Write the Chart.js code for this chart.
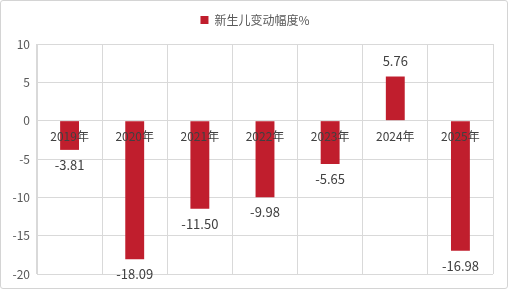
<!DOCTYPE html>
<html><head><meta charset="utf-8">
<script src="https://cdn.jsdelivr.net/npm/chart.js@4/dist/chart.umd.min.js"></script>
<style>
html,body{margin:0;padding:0;background:#fff;}
#wrap{position:relative;width:508px;height:289px;}
#wrap canvas{position:absolute;left:0;top:0;}
#frame{position:absolute;left:0;top:0;width:508px;height:289px;box-sizing:border-box;border:1px solid #d4d4d4;border-radius:3px;pointer-events:none;}
</style></head>
<body>
<div id="wrap"><canvas id="c" width="508" height="289"></canvas><div id="frame"></div></div>
<script>
const categories = ['2019年','2020年','2021年','2022年','2023年','2024年','2025年'];
const seriesName = '新生儿变动幅度%';
const values = [-3.81, -18.09, -11.50, -9.98, -5.65, 5.76, -16.98];
const yTicks = [10, 5, 0, -5, -10, -15, -20];

const FONT = '"Noto Sans CJK SC", "Noto Sans", sans-serif';

const labelPlugin = {
  id: 'valueLabels',
  afterDatasetsDraw(chart) {
    const ctx = chart.ctx;
    const meta = chart.getDatasetMeta(0);
    ctx.save();
    ctx.font = '13px ' + FONT;
    ctx.fillStyle = '#404040';
    ctx.textAlign = 'center';
    ctx.textBaseline = 'middle';
    meta.data.forEach((bar, i) => {
      const v = values[i];
      const y = v >= 0 ? bar.y - 15 : bar.y + 15;
      ctx.fillText(v.toFixed(2), bar.x, y);
    });
    ctx.restore();
  }
};

const legendFit = {
  id: 'legendFit',
  beforeInit(chart) {
    const orig = chart.legend.fit;
    chart.legend.fit = function() { orig.call(this); this.height = 44; };
  },
  afterLayout(chart) {
    chart.legend.left += 17;
  }
};

new Chart(document.getElementById('c'), {
  type: 'bar',
  data: {
    labels: categories,
    datasets: [{
      label: seriesName,
      data: values,
      backgroundColor: '#C01E2D',
      borderWidth: 0,
      barPercentage: 0.29,
      categoryPercentage: 1.0
    }]
  },
  options: {
    responsive: false,
    animation: false,
    devicePixelRatio: 1,
    layout: { padding: { left: 0, right: 15, bottom: 15, top: 0 } },
    plugins: {
      legend: {
        display: true,
        position: 'top',
        labels: {
          boxWidth: 8, boxHeight: 8,
          padding: 14,
          color: '#595959',
          font: { size: 12, family: FONT }
        }
      },
      tooltip: { enabled: false }
    },
    scales: {
      x: {
        position: { y: 0 },
        offset: true,
        grid: { color: '#d9d9d9', drawTicks: false, offset: true },
        border: { display: true, color: '#d9d9d9' },
        ticks: { z: 1, color: '#404040', padding: 9, font: { size: 12, family: FONT }, maxRotation: 0 }
      },
      y: {
        min: -20, max: 10,
        afterFit(scale) { scale.width = 37; },
        afterBuildTicks(scale) { scale.ticks = yTicks.map(v => ({ value: v })); },
        grid: { color: '#d9d9d9', drawTicks: false },
        border: { display: true, color: '#d9d9d9' },
        ticks: { color: '#595959', padding: 7, font: { size: 12, family: FONT } }
      }
    }
  },
  plugins: [labelPlugin, legendFit]
});
</script>
</body></html>
